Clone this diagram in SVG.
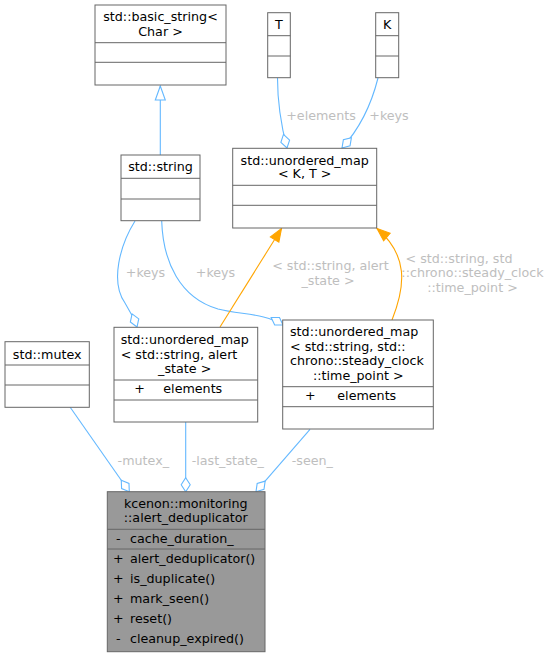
<svg xmlns="http://www.w3.org/2000/svg" width="551" height="657" viewBox="0 0 551 657">
<style>
text{font-family:"DejaVu Sans","Liberation Sans",sans-serif;font-size:12.7px;fill:#000}
.box{fill:#fff;stroke:#666;stroke-width:1}
.main{fill:#999;stroke:#666;stroke-width:1}
.div{stroke:#666;stroke-width:1}
.e{fill:none;stroke:#63b8ff;stroke-width:1.1}
.o{fill:none;stroke:#ffa500;stroke-width:1.1}
.lbl{fill:#bebebe;text-anchor:middle}
.c{text-anchor:middle}
</style>
<defs>
<marker id="dia" markerUnits="userSpaceOnUse" markerWidth="16" markerHeight="12" viewBox="-1 -6 16 12" refX="14" refY="0" orient="auto">
<path d="M0,0 L7,-4.5 L14,0 L7,4.5 Z" fill="#fff" stroke="#63b8ff" stroke-width="1.1"/>
</marker>
<marker id="inh" markerUnits="userSpaceOnUse" markerWidth="16" markerHeight="14" viewBox="-1 -7 16 14" refX="14" refY="0" orient="auto">
<path d="M0,-5 L14,0 L0,5 Z" fill="#fff" stroke="#63b8ff" stroke-width="1.1"/>
</marker>
<marker id="arr" markerUnits="userSpaceOnUse" markerWidth="16" markerHeight="14" viewBox="-1 -7 16 14" refX="13" refY="0" orient="auto">
<path d="M0,-5 L13,0 L0,5 Z" fill="#ffa500" stroke="#ffa500" stroke-width="1.1"/>
</marker>
</defs>

<g id="connectors">
<path class="e" d="M160.3,155 L160.3,86" marker-end="url(#inh)"/>
<path class="e" d="M277.5,78 C277.5,105 281,125 287,148" marker-end="url(#dia)"/>
<path class="e" d="M378,78 C372,102 362,126 342,148" marker-end="url(#dia)"/>
<path class="e" d="M135,221 C120,245 110,282 125,303 C130,311 134,319 137,327" marker-end="url(#dia)"/>
<path class="e" d="M161.7,221 C163,262 180,298 218,309 C242,315 264,313 283,325" marker-end="url(#dia)"/>
<path class="o" d="M220,327 L281.5,228.5" marker-end="url(#arr)"/>
<path class="o" d="M392,320 C406,285 408,255 377,228.5" marker-end="url(#arr)"/>
<path class="e" d="M70,407 L129.3,491.7" marker-end="url(#dia)"/>
<path class="e" d="M185.7,422 L185.7,491.7" marker-end="url(#dia)"/>
<path class="e" d="M310,429.3 L256,491.7" marker-end="url(#dia)"/>
<text class="lbl" x="321" y="120">+elements</text>
<text class="lbl" x="389" y="120">+keys</text>
<text class="lbl" x="145.5" y="277">+keys</text>
<text class="lbl" x="215.5" y="277">+keys</text>
<text class="lbl" x="330.5" y="270">&lt; std::string, alert</text>
<text class="lbl" x="328" y="284.5">_state &gt;</text>
<text class="lbl" x="459" y="262.8">&lt; std::string, std</text>
<text class="lbl" x="472.5" y="277.2">::chrono::steady_clock</text>
<text class="lbl" x="472.5" y="291.8">::time_point &gt;</text>
<text class="lbl" x="143.3" y="464.5">-mutex_</text>
<text class="lbl" x="227.8" y="464.5">-last_state_</text>
<text class="lbl" x="312.3" y="464.5">-seen_</text>
</g>

<g id="node-basic_string">
<rect class="box" x="95" y="5" width="131" height="80"/>
<line class="div" x1="95" y1="42.7" x2="226" y2="42.7"/>
<line class="div" x1="95" y1="62.3" x2="226" y2="62.3"/>
<text class="c" x="160.5" y="21.2">std::basic_string&lt;</text>
<text class="c" x="160.5" y="36.2">Char &gt;</text>
</g>

<g id="node-T">
<rect class="box" x="267.7" y="12.7" width="22.6" height="65"/>
<line class="div" x1="267.7" y1="35.7" x2="290.3" y2="35.7"/>
<line class="div" x1="267.7" y1="56" x2="290.3" y2="56"/>
<text class="c" x="279" y="28.8">T</text>
</g>

<g id="node-K">
<rect class="box" x="375.7" y="12.7" width="23" height="65"/>
<line class="div" x1="375.7" y1="35.7" x2="398.7" y2="35.7"/>
<line class="div" x1="375.7" y1="56" x2="398.7" y2="56"/>
<text class="c" x="387.2" y="28.8">K</text>
</g>

<g id="node-string">
<rect class="box" x="121" y="155" width="79" height="65.7"/>
<line class="div" x1="121" y1="178.3" x2="200" y2="178.3"/>
<line class="div" x1="121" y1="199" x2="200" y2="199"/>
<text class="c" x="160.5" y="171.2">std::string</text>
</g>

<g id="node-unordered_map_KT">
<rect class="box" x="232.7" y="148.3" width="144" height="79.7"/>
<line class="div" x1="232.7" y1="185.3" x2="376.7" y2="185.3"/>
<line class="div" x1="232.7" y1="205.3" x2="376.7" y2="205.3"/>
<text class="c" x="304.7" y="164.5">std::unordered_map</text>
<text class="c" x="304.7" y="178">&lt; K, T &gt;</text>
</g>

<g id="node-mutex">
<rect class="box" x="5" y="341.7" width="84.3" height="65.6"/>
<line class="div" x1="5" y1="365" x2="89.3" y2="365"/>
<line class="div" x1="5" y1="385" x2="89.3" y2="385"/>
<text class="c" x="47.2" y="358.5">std::mutex</text>
</g>

<g id="node-map_alert_state">
<rect class="box" x="114" y="327.3" width="143.7" height="94.7"/>
<line class="div" x1="114" y1="380" x2="257.7" y2="380"/>
<line class="div" x1="114" y1="400" x2="257.7" y2="400"/>
<text x="120.7" y="343.8">std::unordered_map</text>
<text x="120.7" y="358.8">&lt; std::string, alert</text>
<text class="c" x="184.7" y="372.8">_state &gt;</text>
<text x="134.3" y="392.8">+</text>
<text x="163.3" y="392.8">elements</text>
</g>

<g id="node-map_time_point">
<rect class="box" x="282.7" y="320" width="150.6" height="109"/>
<line class="div" x1="282.7" y1="386.7" x2="433.3" y2="386.7"/>
<line class="div" x1="282.7" y1="406.7" x2="433.3" y2="406.7"/>
<text x="290" y="336.2">std::unordered_map</text>
<text x="290" y="350.5">&lt; std::string, std::</text>
<text x="290" y="364.5">chrono::steady_clock</text>
<text class="c" x="358.3" y="379.5">::time_point &gt;</text>
<text x="305" y="399.5">+</text>
<text x="337.3" y="399.5">elements</text>
</g>

<g id="node-alert_deduplicator">
<rect class="main" x="107.3" y="491.7" width="157.7" height="160"/>
<line class="div" x1="107.3" y1="529.3" x2="265" y2="529.3"/>
<line class="div" x1="107.3" y1="549" x2="265" y2="549"/>
<text class="c" x="185.8" y="507.8">kcenon::monitoring</text>
<text class="c" x="185.8" y="521.8">::alert_deduplicator</text>
<text class="c" x="118.3" y="542.8">-</text>
<text x="130" y="542.8">cache_duration_</text>
<text class="c" x="118.3" y="562.8">+</text>
<text x="130" y="562.8">alert_deduplicator()</text>
<text class="c" x="118.3" y="582.8">+</text>
<text x="130" y="582.8">is_duplicate()</text>
<text class="c" x="118.3" y="602.8">+</text>
<text x="130" y="602.8">mark_seen()</text>
<text class="c" x="118.3" y="622.8">+</text>
<text x="130" y="622.8">reset()</text>
<text class="c" x="118.3" y="642.8">-</text>
<text x="130" y="642.8">cleanup_expired()</text>
</g>
</svg>
